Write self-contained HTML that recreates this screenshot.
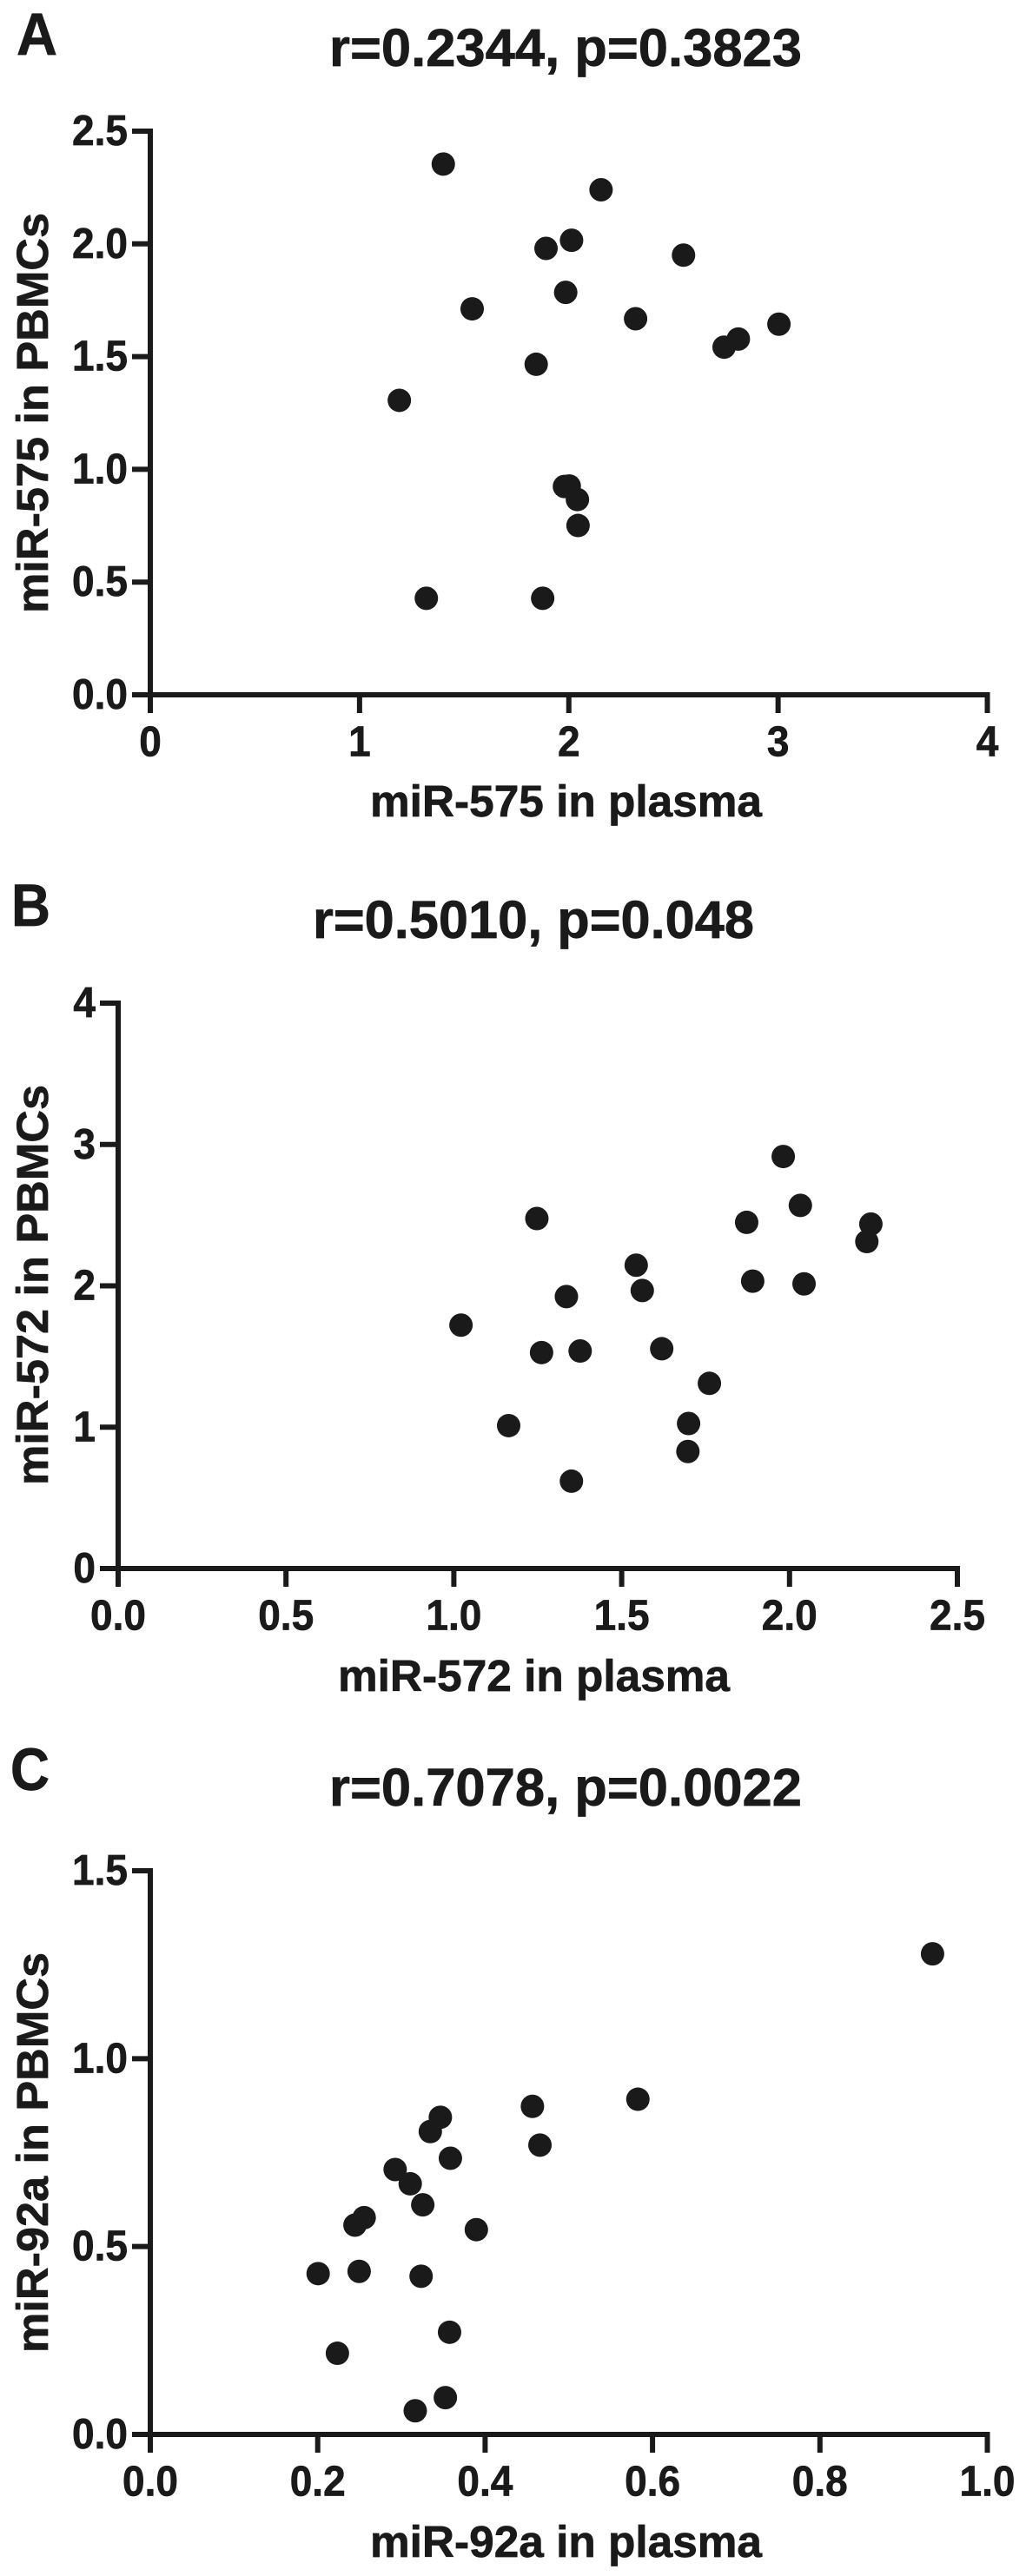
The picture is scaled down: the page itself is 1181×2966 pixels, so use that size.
<!DOCTYPE html>
<html lang="en">
<head>
<meta charset="utf-8">
<title>Correlation of miRNA levels in plasma and PBMCs</title>
<style>
html,body{margin:0;padding:0;background:#fff;}
svg{display:block;}
text{font-family:"Liberation Sans",Arial,sans-serif;font-weight:bold;fill:#1a1a1a;stroke:#1a1a1a;stroke-width:0.7px;}
</style>
</head>
<body>
<svg id="figure" xmlns="http://www.w3.org/2000/svg" width="1181" height="2966" viewBox="0 0 1181 2966">
<rect x="0" y="0" width="1181" height="2966" fill="#ffffff"/>

<g id="panel-a">
<text x="19" y="63" font-size="69" textLength="47" lengthAdjust="spacingAndGlyphs">A</text>
<text x="379" y="76" font-size="61.5" textLength="544" lengthAdjust="spacingAndGlyphs">r=0.2344, p=0.3823</text>
<text x="426" y="940" font-size="51" textLength="451" lengthAdjust="spacingAndGlyphs">miR-575 in plasma</text>
<text transform="translate(55,706) rotate(-90)" x="0" y="0" font-size="51" textLength="461" lengthAdjust="spacingAndGlyphs">miR-575 in PBMCs</text>
</g>

<g id="panel-b">
<text x="13" y="1066" font-size="69" textLength="45" lengthAdjust="spacingAndGlyphs">B</text>
<text x="360" y="1080" font-size="61.5" textLength="508" lengthAdjust="spacingAndGlyphs">r=0.5010, p=0.048</text>
<text x="389" y="1947" font-size="51" textLength="451" lengthAdjust="spacingAndGlyphs">miR-572 in plasma</text>
<text transform="translate(55,1710) rotate(-90)" x="0" y="0" font-size="51" textLength="461" lengthAdjust="spacingAndGlyphs">miR-572 in PBMCs</text>
</g>

<g id="panel-c">
<text x="12" y="2061" font-size="69" textLength="45" lengthAdjust="spacingAndGlyphs">C</text>
<text x="379" y="2079" font-size="61.5" textLength="544" lengthAdjust="spacingAndGlyphs">r=0.7078, p=0.0022</text>
<text x="426" y="2944" font-size="51" textLength="451" lengthAdjust="spacingAndGlyphs">miR-92a in plasma</text>
<text transform="translate(55,2709) rotate(-90)" x="0" y="0" font-size="51" textLength="461" lengthAdjust="spacingAndGlyphs">miR-92a in PBMCs</text>
</g>
</svg>

<script>
// Panel A data
const panelAPlasma = [1.398,2.152,2.011,1.889,2.546,1.983,1.536,2.317,3.002,2.808,2.740,1.842,1.188,1.977,2.000,2.039,2.042,1.317,1.873];
const panelAPbmcs = [2.354,2.240,2.016,1.980,1.950,1.785,1.712,1.668,1.644,1.578,1.542,1.466,1.306,0.924,0.926,0.866,0.751,0.428,0.428];
const panelAXTicks = ["0","1","2","3","4"];
const panelAYTicks = ["0.0","0.5","1.0","1.5","2.0","2.5"];

// Panel B data
const panelBPlasma = [1.020,1.246,1.162,1.260,1.334,1.375,1.349,1.542,1.560,1.618,1.760,1.698,1.696,1.871,1.889,1.980,2.031,2.042,2.229,2.241];
const panelBPbmcs = [1.722,2.476,1.011,1.528,1.924,1.539,0.618,2.146,1.967,1.555,1.310,1.026,0.828,2.449,2.033,2.915,2.569,2.014,2.313,2.437];
const panelBXTicks = ["0.0","0.5","1.0","1.5","2.0","2.5"];
const panelBYTicks = ["0","1","2","3","4"];

// Panel C data
const panelCPlasma = [0.934,0.582,0.456,0.465,0.346,0.334,0.358,0.292,0.310,0.325,0.389,0.255,0.244,0.249,0.200,0.323,0.357,0.223,0.352,0.316];
const panelCPbmcs = [1.279,0.892,0.873,0.770,0.844,0.806,0.735,0.705,0.667,0.611,0.545,0.577,0.557,0.434,0.428,0.421,0.272,0.216,0.098,0.063];
const panelCXTicks = ["0.0","0.2","0.4","0.6","0.8","1.0"];
const panelCYTicks = ["0.0","0.5","1.0","1.5"];

const SVG_NS = "http://www.w3.org/2000/svg";
const INK = "#1a1a1a";

function makeScale(domainMin, domainMax, pixelMin, pixelMax) {
  return function (value) {
    return pixelMin + (value - domainMin) / (domainMax - domainMin) * (pixelMax - pixelMin);
  };
}

function addLine(parent, x1, y1, x2, y2, name) {
  const line = document.createElementNS(SVG_NS, "line");
  line.setAttribute("x1", x1);
  line.setAttribute("y1", y1);
  line.setAttribute("x2", x2);
  line.setAttribute("y2", y2);
  line.setAttribute("stroke", INK);
  line.setAttribute("stroke-width", "6");
  line.setAttribute("stroke-linecap", "square");
  
  
  parent.appendChild(line);
}

function addTickLabel(parent, x, y, label, anchor, name) {
  const text = document.createElementNS(SVG_NS, "text");
  text.setAttribute("transform", "translate(" + x + "," + y + ") scale(0.93,1)");
  text.setAttribute("font-size", "49.5");
  text.setAttribute("text-anchor", anchor);
  text.textContent = label;
  
  
  parent.appendChild(text);
}

function drawPanel(id, plasma, pbmcs, xTicks, yTicks, box) {
  const parent = document.getElementById(id);
  const xValues = xTicks.map(Number);
  const yValues = yTicks.map(Number);
  const xScale = makeScale(xValues[0], xValues[xValues.length - 1], box.left, box.right);
  const yScale = makeScale(yValues[0], yValues[yValues.length - 1], box.bottom, box.top);

  addLine(parent, box.left, box.top, box.left, box.bottom, id + "-y-axis-line");
  addLine(parent, box.left, box.bottom, box.right, box.bottom, id + "-x-axis-line");

  xValues.forEach(function (value, i) {
    const x = xScale(value);
    addLine(parent, x, box.bottom, x, box.bottom + 18, id + "-x-tick");
    addTickLabel(parent, x, box.bottom + 70.5, xTicks[i], "middle", id + "-x-tick-label");
  });

  yValues.forEach(function (value, i) {
    const y = yScale(value);
    addLine(parent, box.left - 18, y, box.left, y, id + "-y-tick");
    addTickLabel(parent, box.left - 26, y + 16, yTicks[i], "end", id + "-y-tick-label");
  });

  plasma.forEach(function (value, i) {
    const dot = document.createElementNS(SVG_NS, "ellipse");
    dot.setAttribute("cx", xScale(value) + 0.5);
    dot.setAttribute("cy", yScale(pbmcs[i]));
    dot.setAttribute("rx", "13.5");
    dot.setAttribute("ry", "13.5");
    dot.setAttribute("fill", INK);
    
    
    parent.appendChild(dot);
  });
}

drawPanel("panel-a", panelAPlasma, panelAPbmcs, panelAXTicks, panelAYTicks, {left: 173, right: 1136.5, top: 151, bottom: 800});
drawPanel("panel-b", panelBPlasma, panelBPbmcs, panelBXTicks, panelBYTicks, {left: 136, right: 1102, top: 1155, bottom: 1806});
drawPanel("panel-c", panelCPlasma, panelCPbmcs, panelCXTicks, panelCYTicks, {left: 173, right: 1136.5, top: 2154, bottom: 2803});
</script>
</body>
</html>
